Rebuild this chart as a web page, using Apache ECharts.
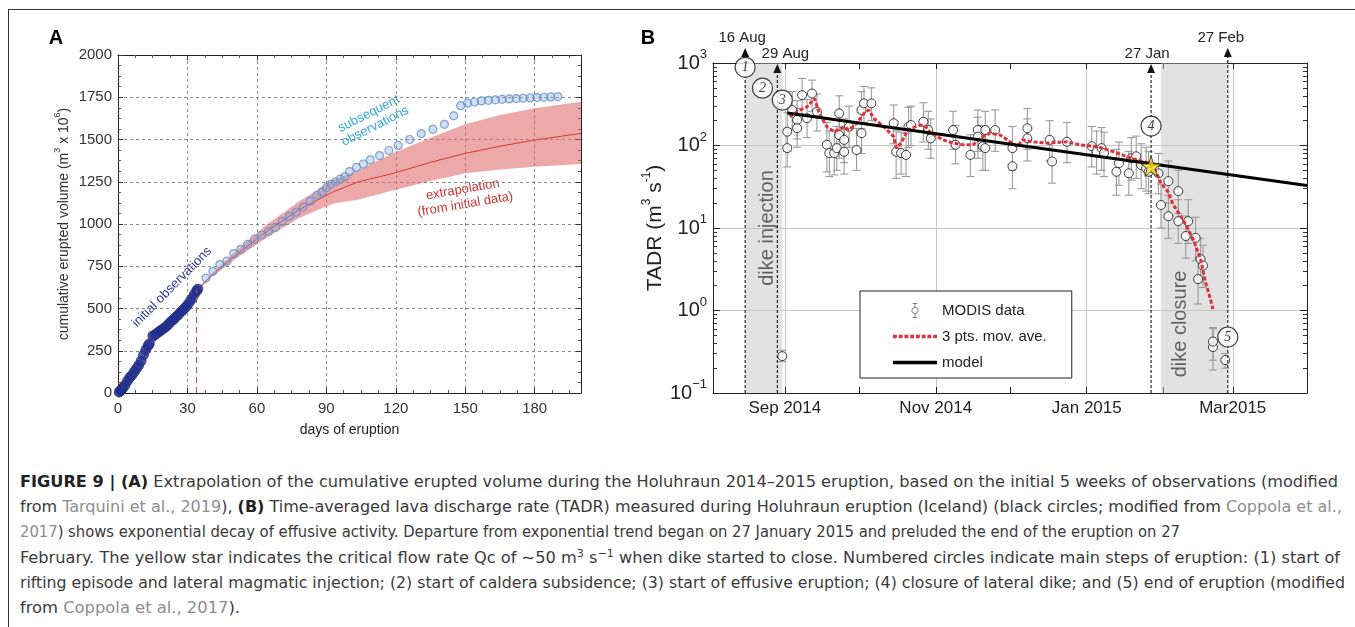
<!DOCTYPE html>
<html>
<head>
<meta charset="utf-8">
<script src="https://cdn.jsdelivr.net/npm/echarts@6/dist/echarts.min.js"></script>
<style>
html,body{margin:0;padding:0;background:#fff;width:1355px;height:627px;overflow:hidden;}
#frame{position:absolute;left:8px;top:9px;width:1400px;height:700px;border-left:1.5px solid #333;border-top:1.5px solid #333;}
#chart{position:absolute;left:0;top:0;width:1355px;height:460px;}
#caption{position:absolute;left:20px;top:0;font-family:"Liberation Sans Narrow","DejaVu Sans Condensed","Liberation Sans",sans-serif;font-size:16px;color:#3a3a3a;}
.cl{position:absolute;left:0;white-space:nowrap;line-height:20px;transform-origin:0 50%;}
.cl b{color:#222;}
.lk{color:#8d8d8d;}
.cl sup{font-size:11px;line-height:0;}
</style>
</head>
<body>
<div id="frame"></div>
<div id="chart"></div>
<div id="caption">
<div class="cl" data-w="1318" style="top:472px"><b>FIGURE 9 | (A)</b> Extrapolation of the cumulative erupted volume during the Holuhraun 2014–2015 eruption, based on the initial 5 weeks of observations (modified</div>
<div class="cl" data-w="1322" style="top:497px">from <span class="lk">Tarquini et al., 2019</span>), <b>(B)</b> Time-averaged lava discharge rate (TADR) measured during Holuhraun eruption (Iceland) (black circles; modified from <span class="lk">Coppola et al.,</span></div>
<div class="cl" data-w="1160" style="top:522px"><span class="lk">2017</span>) shows exponential decay of effusive activity. Departure from exponential trend began on 27 January 2015 and preluded the end of the eruption on 27</div>
<div class="cl" data-w="1320" style="top:548px">February. The yellow star indicates the critical flow rate Qc of ∼50 m<sup>3</sup> s<sup>−1</sup> when dike started to close. Numbered circles indicate main steps of eruption: (1) start of</div>
<div class="cl" data-w="1325" style="top:573px">rifting episode and lateral magmatic injection; (2) start of caldera subsidence; (3) start of effusive eruption; (4) closure of lateral dike; and (5) end of eruption (modified</div>
<div class="cl" data-w="220" style="top:598px">from <span class="lk">Coppola et al., 2017</span>).</div>
</div>
<script>
function fitCaption(){
  document.querySelectorAll('.cl').forEach(el => {
    el.style.transform = 'none';
    const w = el.getBoundingClientRect().width;
    const t = +el.dataset.w;
    if (w > 0) el.style.transform = 'scaleX(' + (t / w) + ')';
  });
}
fitCaption();
if (document.fonts && document.fonts.ready) document.fonts.ready.then(fitCaption);
</script>
<script>
// ---------------- Panel A data ----------------
const aXTicks = [0, 30, 60, 90, 120, 150, 180];
const aYTicks = [0, 250, 500, 750, 1000, 1250, 1500, 1750, 2000];
const initialDays = [0.5,1,1.5,2,3,4,5,6,7,8,9,10,11,12,13,13.5,15,16,17,18,19,20,21,22,23,24,25,26,27,28,29,30,31,32,33,34,34.5];
const initialVol  = [5,12,20,28,45,70,90,105,125,145,165,190,225,255,280,290,338,345,355,365,375,385,395,410,425,435,450,462,478,490,505,520,540,560,585,605,615];
const laterDays = [38,41,44,47,50,53,56,59,62,65,68,71,74,77,80,83,86,88,90,92,94,96,98,100,103,106,109,113,117,121,126,131,136,141,145,148,151,154,157,160,163,166,169,172,175,178,181,184,187,190];
const laterVol  = [680,720,760,780,825,850,880,910,935,955,980,1015,1045,1070,1100,1135,1170,1190,1215,1235,1250,1265,1280,1310,1335,1355,1380,1405,1435,1465,1500,1535,1560,1590,1640,1700,1715,1722,1728,1732,1735,1738,1740,1742,1744,1746,1748,1750,1752,1754];
const bandDays  = [0,10,20,30,35,40,50,64,78,93,104,119,135,150,165,180,200];
const bandMid   = [0,190,385,525,620,690,806,954,1083,1191,1250,1300,1365,1418,1460,1497,1536];
const bandUpper = [0,194,390,530,626,700,830,994,1132,1260,1320,1420,1510,1590,1645,1685,1724];
const bandLower = [0,186,380,520,614,680,785,917,1034,1122,1145,1200,1255,1300,1322,1339,1355];
const cutoffDay = 34;
const cutoffVol = 610;

// ---------------- Panel B data ----------------
const bXTickDates  = ['2014-09-01','2014-11-01','2015-01-01','2015-03-01'];
const bXTickLabels = ['Sep 2014','Nov 2014','Jan 2015','Mar2015'];
const bMonthTicks  = ['2014-09-01','2014-10-01','2014-11-01','2014-12-01','2015-01-01','2015-02-01','2015-03-01'];
const bYExponents  = [-1, 0, 1, 2, 3];
const modisDates = ['2014-08-31','2014-09-02','2014-09-02','2014-09-04','2014-09-06','2014-09-06','2014-09-08','2014-09-10','2014-09-12','2014-09-14',
 '2014-09-18','2014-09-19','2014-09-21','2014-09-22','2014-09-23','2014-09-23','2014-09-25','2014-09-25','2014-09-27','2014-09-30',
 '2014-10-02','2014-10-02','2014-10-03','2014-10-06','2014-10-15','2014-10-16','2014-10-18','2014-10-20','2014-10-21','2014-10-22',
 '2014-10-27','2014-10-29','2014-10-30','2014-11-08','2014-11-09','2014-11-15','2014-11-18','2014-11-18','2014-11-20','2014-11-21',
 '2014-11-21','2014-11-25','2014-12-02','2014-12-02','2014-12-08','2014-12-08','2014-12-17','2014-12-18','2014-12-24','2015-01-03',
 '2015-01-05','2015-01-07','2015-01-08','2015-01-13','2015-01-14','2015-01-18','2015-01-19','2015-01-21','2015-01-23','2015-01-25',
 '2015-01-26','2015-01-30','2015-01-31','2015-02-03','2015-02-03','2015-02-07','2015-02-07','2015-02-10','2015-02-11','2015-02-14',
 '2015-02-15','2015-02-16','2015-02-17','2015-02-21','2015-02-21','2015-02-26'];
const modisVals = [0.28,147,93,269,204,162,408,214,427,257,
 102,81,81,93,245,134,84,117,169,88,
 141,269,324,324,186,84,81,77,169,177,
 194,154,122,154,102,77,154,128,98,154,
 93,154,93,56,162,122,117,64,111,98,
 84,93,81,48,61,46,70,74,58,53,
 48,46,19,37,13.9,28,12.1,8.0,12.1,7.6,
 2.4,4.2,3.5,0.36,0.42,0.25];
const modisLow = [0.24,85,55,160,120,95,240,125,260,150,
 48,42,44,50,140,70,45,62,95,50,
 80,160,190,200,105,40,45,42,95,100,
 110,90,70,90,60,42,85,70,50,90,
 50,85,50,30,90,65,65,35,62,55,
 45,50,42,25,33,25,38,40,30,28,
 26,26,10,20,7.5,15,6.5,4.3,6.5,4.0,
 1.2,2.2,1.9,0.19,0.25,0.2];
const modisHigh = [0.33,250,160,450,350,280,650,360,620,420,
 190,150,150,170,400,230,155,210,300,160,
 250,450,520,500,310,150,145,140,290,300,
 330,260,210,260,175,135,270,220,175,260,
 165,270,170,100,280,210,200,115,190,170,
 150,165,145,90,110,85,125,130,105,95,
 85,80,34,65,25,50,22,14,22,13.5,
 4.3,7.5,6.2,0.62,0.6,0.3];
const maDates = ['2014-09-03','2014-09-07','2014-09-10','2014-09-13','2014-09-15','2014-09-18','2014-09-21','2014-09-25','2014-09-27','2014-09-30',
 '2014-10-03','2014-10-05','2014-10-07','2014-10-11','2014-10-15','2014-10-16','2014-10-18','2014-10-20','2014-10-22','2014-10-26',
 '2014-10-28','2014-10-30','2014-11-04','2014-11-08','2014-11-12','2014-11-16','2014-11-20','2014-11-23','2014-11-27','2014-12-01',
 '2014-12-04','2014-12-06','2014-12-10','2014-12-16','2014-12-24','2014-12-29','2015-01-05','2015-01-12','2015-01-19','2015-01-26',
 '2015-01-29','2015-01-31','2015-02-03','2015-02-05','2015-02-08','2015-02-10','2015-02-13','2015-02-16','2015-02-18','2015-02-20','2015-02-21'];
const maVals = [223,269,294,372,245,169,147,169,154,186,
 245,269,213,169,128,93,107,141,162,177,
 169,141,117,107,102,102,128,141,134,111,
 97,117,111,107,111,102,97,84,70,61,
 48,35,27,19,13.9,11,7.3,4.2,2.2,1.37,1.04];
const modelDates = ['2014-09-02','2015-03-31'];
const modelVals  = [247, 32.8];
const starDate = '2015-01-27';
const starVal = 56;
const stepDates  = ['2014-08-16','2014-08-23','2014-08-31','2015-01-27','2015-02-27'];
const stepVals   = [887, 495, 355, 172, 0.477];
const stepLabels = ['1','2','3','4','5'];
const eventDates  = ['2014-08-16','2014-08-29','2015-01-27','2015-02-27'];
const eventLabels = ['16 Aug','29 Aug','27 Jan','27 Feb'];
const injectionSpan = ['2014-08-16','2014-08-31'];
const closureSpan   = ['2015-01-31','2015-02-27'];
const bXMin = '2014-08-03', bXMax = '2015-03-31';

// ---------------- helpers ----------------
const FONT = 'Liberation Sans, Arial, Helvetica, sans-serif';
function ts(s){ const p = s.split('-').map(Number); return Date.UTC(p[0], p[1]-1, p[2]); }
function zip(a, b){ return a.map((v, i) => [v, b[i]]); }
const minorLogTicks = [];
for (let e = -1; e < 3; e++) for (let k = 2; k <= 9; k++) minorLogTicks.push(Math.log10(k * Math.pow(10, e)));
const bTickTs = bXTickDates.map(ts);
let dashPath = 'path://';
for (let x = 0; x < 44; x += 6) dashPath += 'M' + x + ',0H' + (x + 4) + 'V3.5H' + x + 'Z';

const chart = echarts.init(document.getElementById('chart'));
const gridLineB = {show:true, lineStyle:{color:'#c9c9c9', width:1}};
const blackLine = {show:true, onZero:false, lineStyle:{color:'#222', width:1}};
const supRich = {
  b:{fontSize:20, lineHeight:30, fontFamily:FONT, color:'#222'},
  s:{fontSize:13, lineHeight:14, verticalAlign:'top', fontFamily:FONT, color:'#222'}
};

const option = {
  animation:false,
  textStyle:{fontFamily:FONT},
  grid:[
    {left:118, top:55, width:463, height:338},
    {left:713, top:63, width:594, height:330}
  ],
  xAxis:[
    {gridIndex:0, type:'value', min:0, max:200, interval:30,
     axisLine:blackLine, axisTick:{inside:true, length:5, lineStyle:{color:'#333'}},
     minorTick:{show:true, splitNumber:4, length:3, lineStyle:{color:'#555'}},
     axisLabel:{showMaxLabel:false, fontSize:15, color:'#333', margin:8, fontFamily:FONT,
       formatter: v => aXTicks.indexOf(v) >= 0 ? String(v) : ''},
     splitLine:{show:true, lineStyle:{type:[3,3], color:'#8a8a8a', width:1}},
     name:'days of eruption', nameLocation:'middle', nameGap:30,
     nameTextStyle:{fontSize:14, color:'#222', fontFamily:FONT}},
    {gridIndex:0, type:'value', position:'top', min:0, max:200, interval:30,
     axisLine:blackLine, axisTick:{inside:true, length:5, lineStyle:{color:'#333'}},
     minorTick:{show:true, splitNumber:4, length:3, lineStyle:{color:'#555'}},
     axisLabel:{show:false}, splitLine:{show:false}},
    {gridIndex:1, type:'value', min:ts(bXMin), max:ts(bXMax),
     axisLine:blackLine,
     axisTick:{show:true, inside:true, length:6, customValues:bMonthTicks.map(ts), lineStyle:{color:'#222'}},
     axisLabel:{show:true, customValues:bTickTs, fontSize:17, color:'#222', margin:7, fontFamily:FONT,
       formatter: function(v){ const i = bTickTs.findIndex(t => Math.abs(t - v) < 43200000); return i >= 0 ? bXTickLabels[i] : ''; }},
     splitLine:{show:false}},
    {gridIndex:1, type:'value', position:'top', min:ts(bXMin), max:ts(bXMax),
     axisLine:blackLine,
     axisTick:{show:true, inside:true, length:6, customValues:bMonthTicks.map(ts), lineStyle:{color:'#222'}},
     axisLabel:{show:false}, splitLine:{show:false}},
    {gridIndex:1, type:'value', min:ts(bXMin), max:ts(bXMax),
     axisLine:{show:false, onZero:false},
     axisTick:{show:false, customValues:bTickTs},
     axisLabel:{show:false}, splitLine:gridLineB}
  ],
  yAxis:[
    {gridIndex:0, type:'value', min:0, max:2000, interval:250,
     axisLine:blackLine, axisTick:{inside:true, length:5, lineStyle:{color:'#333'}},
     minorTick:{show:true, splitNumber:4, length:3, lineStyle:{color:'#555'}},
     axisLabel:{fontSize:15, color:'#333', margin:6, fontFamily:FONT,
       formatter: v => aYTicks.indexOf(v) >= 0 ? String(v) : ''},
     splitLine:{show:true, lineStyle:{type:[3,3], color:'#8a8a8a', width:1}},
     name:'{n|cumulative erupted volume (m}{s|3}{n| x 10}{s|6}{n|)}', nameLocation:'middle', nameGap:43,
     nameTextStyle:{color:'#333', rich:{
       n:{fontSize:14, lineHeight:22, fontFamily:FONT, color:'#333'},
       s:{fontSize:9, lineHeight:10, verticalAlign:'top', fontFamily:FONT, color:'#333'}}}},
    {gridIndex:0, type:'value', position:'right', min:0, max:2000, interval:250,
     axisLine:blackLine, axisTick:{inside:true, length:5, lineStyle:{color:'#333'}},
     minorTick:{show:true, splitNumber:4, length:3, lineStyle:{color:'#555'}},
     axisLabel:{show:false}, splitLine:{show:false}},
    {gridIndex:1, type:'log', logBase:10, min:0.1, max:1000,
     axisLine:blackLine, axisTick:{inside:true, length:7, lineStyle:{color:'#222'}},
     axisLabel:{margin:6, rich:supRich,
       formatter: function(v){ const e = Math.round(Math.log10(v)); if (bYExponents.indexOf(e) < 0) return '';
         return '{b|10}{s|' + (e < 0 ? '\u2212' + (-e) : e) + '}'; }},
     splitLine:gridLineB,
     name:'{n|TADR (m}{s|3}{n| s}{s|-1}{n|)}', nameLocation:'middle', nameGap:44,
     nameTextStyle:{rich:{
       n:{fontSize:21, lineHeight:28, fontFamily:FONT, color:'#222'},
       s:{fontSize:12, lineHeight:12, verticalAlign:'top', fontFamily:FONT, color:'#222'}}}},
    {gridIndex:1, type:'log', logBase:10, min:0.1, max:1000, position:'right',
     axisLine:blackLine, axisTick:{inside:true, length:7, lineStyle:{color:'#222'}},
     axisLabel:{show:false}, splitLine:{show:false}},
    {gridIndex:1, type:'value', min:-1, max:3, position:'left',
     axisLine:{show:false, onZero:false}, axisTick:{show:true, inside:true, length:4, customValues:minorLogTicks, lineStyle:{color:'#333'}},
     axisLabel:{show:false}, splitLine:{show:false}},
    {gridIndex:1, type:'value', min:-1, max:3, position:'right',
     axisLine:{show:false, onZero:false}, axisTick:{show:true, inside:true, length:4, customValues:minorLogTicks, lineStyle:{color:'#333'}},
     axisLabel:{show:false}, splitLine:{show:false}}
  ],
  legend:{
    data:[
      {name:'MODIS data', icon:'path://M5,0L5,5M2,0L8,0M5,13L5,18M2,18L8,18M5,5A4,4,0,1,1,5,13A4,4,0,1,1,5,5Z',
       itemStyle:{color:'#fff', borderColor:'#666', borderWidth:1}},
      {name:'3 pts. mov. ave.', icon:dashPath, itemStyle:{color:'#e0303c', borderWidth:0}},
      {name:'model', icon:'path://M0,0H44V3.5H0Z', itemStyle:{color:'#000', borderWidth:0}}
    ],
    orient:'vertical', left:860, top:291, width:213,
    padding:[12, 25, 8, 33], itemWidth:44, itemHeight:14, itemGap:11,
    borderColor:'#222', borderWidth:1, backgroundColor:'#fff',
    textStyle:{fontSize:15, color:'#222', fontFamily:FONT}
  },
  series:[
    // ---- Panel A ----
    {type:'custom', name:'extrapolation band', xAxisIndex:0, yAxisIndex:0, silent:true, z:1,
     data:zip(bandDays, bandMid), encode:{x:0, y:1},
     renderItem:function(params, api){
       if (params.dataIndex !== 0) return;
       const pts = [];
       for (let i = 0; i < bandDays.length; i++) pts.push(api.coord([bandDays[i], bandUpper[i]]));
       for (let i = bandDays.length - 1; i >= 0; i--) pts.push(api.coord([bandDays[i], bandLower[i]]));
       return {type:'polygon', shape:{points:pts}, style:{fill:'rgba(222,98,98,0.55)'}};
     }},
    {type:'line', name:'extrapolation', xAxisIndex:0, yAxisIndex:0, data:zip(bandDays, bandMid),
     symbol:'none', lineStyle:{color:'#d23a3a', width:1}, z:2},
    {type:'scatter', name:'subsequent observations', xAxisIndex:0, yAxisIndex:0, data:zip(laterDays, laterVol),
     symbolSize:8, itemStyle:{color:'rgba(130,165,215,0.45)', borderColor:'#6590c8', borderWidth:1.2}, z:3},
    {type:'scatter', name:'initial observations', xAxisIndex:0, yAxisIndex:0, data:zip(initialDays, initialVol),
     symbolSize:10, itemStyle:{color:'#233293', borderColor:'#1a2570', borderWidth:0.8}, z:4,
     markLine:{silent:true, symbol:'none', label:{show:false},
       lineStyle:{color:'#c94a4a', type:[6,4], width:1},
       data:[[{coord:[cutoffDay, 0]}, {coord:[cutoffDay, cutoffVol]}]]}},
    // ---- Panel B ----
    {type:'custom', name:'errorbars', xAxisIndex:2, yAxisIndex:2,
     data:modisDates.map((d, i) => [ts(d), modisLow[i], modisHigh[i]]),
     encode:{x:0, y:[1, 2]}, z:3, silent:true,
     renderItem:function(params, api){
       const x = api.value(0);
       const p1 = api.coord([x, api.value(1)]), p2 = api.coord([x, api.value(2)]);
       const w = 4, st = {stroke:'#9a9a9a', lineWidth:1.1};
       return {type:'group', children:[
         {type:'line', shape:{x1:p1[0], y1:p1[1], x2:p2[0], y2:p2[1]}, style:st},
         {type:'line', shape:{x1:p1[0]-w, y1:p1[1], x2:p1[0]+w, y2:p1[1]}, style:st},
         {type:'line', shape:{x1:p2[0]-w, y1:p2[1], x2:p2[0]+w, y2:p2[1]}, style:st}
       ]};
     }},
    {type:'scatter', name:'MODIS data', xAxisIndex:2, yAxisIndex:2,
     data:modisDates.map((d, i) => [ts(d), modisVals[i]]),
     symbolSize:9, itemStyle:{color:'#fff', borderColor:'#111', borderWidth:1}, z:4},
    {type:'line', name:'3 pts. mov. ave.', xAxisIndex:2, yAxisIndex:2,
     data:maDates.map((d, i) => [ts(d), maVals[i]]),
     symbol:'none', lineStyle:{color:'#e0303c', width:3, type:[4,2]}, itemStyle:{color:'#e0303c'}, z:5},
    {type:'line', name:'model', xAxisIndex:2, yAxisIndex:2,
     data:modelDates.map((d, i) => [ts(d), modelVals[i]]),
     symbol:'none', lineStyle:{color:'#000', width:3}, itemStyle:{color:'#000'}, z:6,
     markArea:{silent:true, itemStyle:{color:'rgba(190,190,190,0.45)'},
       data:[[{xAxis:ts(injectionSpan[0])}, {xAxis:ts(injectionSpan[1])}],
             [{xAxis:ts(closureSpan[0])}, {xAxis:ts(closureSpan[1])}]]}},
    {type:'custom', name:'events', xAxisIndex:2, yAxisIndex:2, clip:false, silent:true, z:7,
     data:eventDates.map(d => [ts(d), 1000]), encode:{x:0, y:1},
     renderItem:function(params, api){
       const i = params.dataIndex;
       const x = api.value(0);
       const top = api.coord([x, 1000]), bot = api.coord([x, 0.1]);
       const rise = [15, -1, -1, 15][i], dx = [-3, 8, -4, -7][i];
       const tipY = top[1] - rise;
       return {type:'group', children:[
         {type:'line', shape:{x1:top[0], y1:bot[1], x2:top[0], y2:tipY + 8}, style:{stroke:'#111', lineWidth:1.1, lineDash:[3,2]}},
         {type:'polygon', shape:{points:[[top[0], tipY], [top[0] - 4, tipY + 9], [top[0] + 4, tipY + 9]]}, style:{fill:'#111'}},
         {type:'text', x:top[0] + dx, y:tipY - 3, style:{text:eventLabels[i], font:'15px ' + FONT, fill:'#222', align:'center', verticalAlign:'bottom'}}
       ]};
     }},
    {type:'scatter', name:'critical', xAxisIndex:2, yAxisIndex:2,
     data:[[ts(starDate), starVal]],
     symbol:'path://M0,-10L2.35,-3.24L9.51,-3.09L3.8,1.24L5.88,8.09L0,4L-5.88,8.09L-3.8,1.24L-9.51,-3.09L-2.35,-3.24Z',
     symbolSize:20, itemStyle:{color:'#ffe61e', borderColor:'#222', borderWidth:1}, z:8},
    {type:'scatter', name:'steps', xAxisIndex:2, yAxisIndex:2, clip:false,
     data:stepDates.map((d, i) => [ts(d), stepVals[i]]),
     symbol:'circle', symbolSize:20, itemStyle:{color:'#fff', borderColor:'#111', borderWidth:1.2}, z:9,
     label:{show:true, position:'inside', formatter:p => stepLabels[p.dataIndex],
       fontSize:14, fontStyle:'italic', fontFamily:'Liberation Serif, serif', color:'#111'}}
  ],
  graphic:[
    {type:'text', x:56, y:38, style:{text:'A', font:'bold 20px ' + FONT, fill:'#000', align:'center', verticalAlign:'middle'}},
    {type:'text', x:648, y:38, style:{text:'B', font:'bold 20px ' + FONT, fill:'#000', align:'center', verticalAlign:'middle'}},
    {type:'text', x:172, y:287, rotation:0.79, style:{text:'initial observations', font:'13px ' + FONT, fill:'#2b3a9e', align:'center', verticalAlign:'middle'}},
    {type:'text', x:372, y:120, rotation:0.47, style:{text:'subsequent\nobservations', font:'13px ' + FONT, lineHeight:14, fill:'#37a9d6', align:'center', verticalAlign:'middle'}},
    {type:'text', x:464, y:197, rotation:0.17, style:{text:'extrapolation\n(from initial data)', font:'13px ' + FONT, lineHeight:15, fill:'#cf3131', align:'center', verticalAlign:'middle'}},
    {type:'text', x:767, y:228, rotation:Math.PI/2, style:{text:'dike injection', font:'20px ' + FONT, fill:'#111', align:'center', verticalAlign:'middle'}},
    {type:'text', x:1180, y:324, rotation:Math.PI/2, style:{text:'dike closure', font:'20px ' + FONT, fill:'#111', align:'center', verticalAlign:'middle'}}
  ]
};
chart.setOption(option);
</script>
</body>
</html>
